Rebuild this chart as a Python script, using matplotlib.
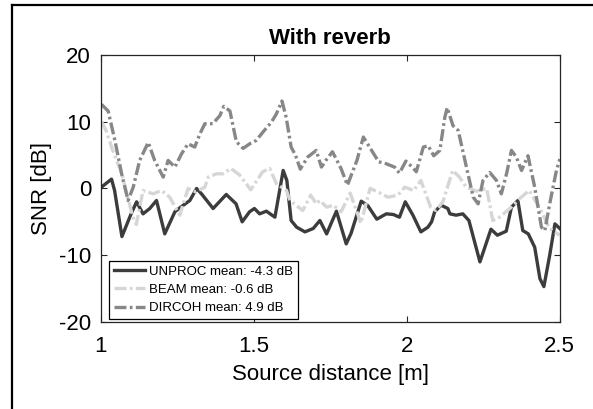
import matplotlib
matplotlib.use("Agg")
import matplotlib.pyplot as plt
from matplotlib.lines import Line2D

plt.rcParams['font.family'] = ['Liberation Sans', 'DejaVu Sans']
plt.rcParams['axes.unicode_minus'] = False

# values
unproc_x = [1.002, 1.035, 1.045, 1.069, 1.099, 1.117, 1.138, 1.160, 1.182, 1.209,
            1.242, 1.261, 1.291, 1.313, 1.329, 1.367, 1.410, 1.442, 1.462, 1.486,
            1.502, 1.519, 1.541, 1.569, 1.596, 1.608, 1.622, 1.640, 1.667, 1.694,
            1.716, 1.738, 1.770, 1.802, 1.818, 1.851, 1.873, 1.902, 1.933, 1.956,
            1.976, 1.995, 2.020, 2.046, 2.069, 2.081, 2.091, 2.112, 2.134, 2.141,
            2.161, 2.183, 2.203, 2.239, 2.275, 2.296, 2.325, 2.342, 2.363, 2.379,
            2.397, 2.418, 2.435, 2.448, 2.467, 2.484, 2.500]
unproc_y = [0.2, 1.4, -0.3, -7.2, -3.8, -2.0, -3.8, -3.0, -1.8, -6.8,
            -3.5, -2.8, -1.8, 0.0, -0.8, -3.0, -0.9, -2.3, -5.0, -3.5,
            -3.0, -3.8, -3.4, -4.3, 2.7, 1.2, -4.8, -5.8, -6.5, -6.0,
            -4.8, -6.8, -3.4, -8.3, -6.7, -1.9, -2.6, -4.6, -3.8, -3.9,
            -4.3, -2.0, -4.0, -6.5, -5.8, -5.0, -3.5, -2.5, -3.0, -3.8,
            -4.0, -3.8, -4.8, -11.0, -6.1, -7.0, -6.4, -2.8, -1.8, -6.3,
            -6.8, -8.8, -13.5, -14.7, -10.0, -5.3, -6.0]

beam_x = [1.002, 1.017, 1.039, 1.069, 1.085, 1.105, 1.116, 1.138, 1.171, 1.198,
          1.225, 1.258, 1.285, 1.310, 1.340, 1.351, 1.378, 1.400, 1.425, 1.454,
          1.490, 1.529, 1.552, 1.574, 1.607, 1.618, 1.660, 1.686, 1.704, 1.716,
          1.738, 1.760, 1.785, 1.815, 1.850, 1.880, 1.905, 1.938, 1.971, 1.993,
          2.023, 2.046, 2.078, 2.095, 2.118, 2.150, 2.172, 2.194, 2.227, 2.261,
          2.281, 2.303, 2.337, 2.369, 2.400, 2.435, 2.467, 2.499]
beam_y = [10.0, 8.7, 5.7, 2.2, -0.8, -4.3, -5.4, -0.3, -0.8, -0.3,
          -1.3, -4.0, 0.0, -0.5, 0.2, 1.7, 2.2, 2.2, 3.0, 2.0,
          -0.2, 2.5, 3.0, 0.7, -0.3, -1.8, -3.3, -1.0, -2.3, -1.8,
          -2.8, -2.5, -3.5, -0.7, -5.2, 0.0, -0.5, -1.3, -1.0, 0.2,
          -0.3, 1.2, -2.8, -3.3, -2.0, 2.7, 1.7, 0.2, -0.4, 0.0,
          -4.8, -4.3, -3.0, -1.5, -0.3, -3.0, -6.0, -7.0]

dircoh_x = [1.002, 1.024, 1.046, 1.068, 1.089, 1.106, 1.127, 1.155, 1.176, 1.204,
            1.220, 1.242, 1.264, 1.285, 1.307, 1.324, 1.340, 1.366, 1.389, 1.402,
            1.422, 1.443, 1.465, 1.487, 1.508, 1.529, 1.557, 1.573, 1.592, 1.606,
            1.622, 1.636, 1.652, 1.676, 1.704, 1.721, 1.737, 1.757, 1.785, 1.806,
            1.837, 1.858, 1.881, 1.908, 1.933, 1.960, 1.976, 1.997, 2.018, 2.031,
            2.054, 2.070, 2.088, 2.108, 2.124, 2.132, 2.151, 2.168, 2.190, 2.217,
            2.233, 2.249, 2.271, 2.293, 2.309, 2.326, 2.342, 2.358, 2.375, 2.396,
            2.418, 2.440, 2.451, 2.467, 2.489, 2.500]
dircoh_y = [12.6, 11.6, 7.2, 2.2, -1.8, 0.2, 4.2, 6.9, 4.2, 1.7,
            4.2, 3.2, 5.2, 6.7, 6.2, 8.2, 9.7, 9.7, 10.9, 12.3,
            11.6, 7.0, 6.0, 6.7, 7.2, 8.4, 9.9, 11.1, 13.1, 10.6,
            6.2, 5.0, 2.9, 4.7, 5.7, 3.2, 4.3, 5.5, 3.0, 0.5,
            4.2, 7.7, 6.0, 4.0, 3.7, 3.2, 2.3, 4.1, 3.2, 2.5,
            6.2, 6.4, 4.9, 5.7, 10.6, 12.1, 9.4, 8.7, 4.2, -1.3,
            -2.3, 1.2, 2.4, 1.2, -0.8, 2.2, 5.7, 4.7, 2.7, 4.9,
            0.2, -5.8, -6.3, -2.3, 2.7, 4.4]

labels = ['UNPROC mean: -4.3 dB', 'BEAM mean: -0.6 dB', 'DIRCOH mean: 4.9 dB']

fig = plt.figure(figsize=(5.93, 4.09), dpi=100)
ax = fig.add_axes([0.170, 0.2127, 0.774, 0.653])

dash = (0, (3.6, 1.0, 0.8, 1.0))
ax.plot(unproc_x, unproc_y, color='#3c3c3c', lw=2.4, label=labels[0])
ax.plot(beam_x, beam_y, color='#d6d6d6', lw=2.4, ls=dash, label=labels[1])
ax.plot(dircoh_x, dircoh_y, color='#878787', lw=2.4, ls=dash, label=labels[2])

ax.set_xlim(1, 2.5)
ax.set_ylim(-20, 20)
ax.set_xticks([1, 1.5, 2, 2.5])
ax.set_xticklabels(['1', '1.5', '2', '2.5'])
ax.set_yticks([-20, -10, 0, 10, 20])
ax.tick_params(direction='in', length=4, width=0.8, top=True, right=True,
               labelsize=16, colors='#262626', labelcolor='black')
ax.tick_params(axis='x', pad=10)
ax.tick_params(axis='y', pad=7)
for s in ax.spines.values():
    s.set_linewidth(0.9)
    s.set_color('#262626')

ax.set_title('With reverb', fontsize=16, fontweight='bold', pad=8)
ax.set_xlabel('Source distance [m]', fontsize=16, labelpad=5)
ax.set_ylabel('SNR [dB]', fontsize=16, labelpad=5)

leg = ax.legend(loc='lower left', bbox_to_anchor=(0.018, 0.012), fontsize=9.5,
                fancybox=False, framealpha=1, edgecolor='black',
                handlelength=2.4, borderpad=0.35, labelspacing=0.45,
                handletextpad=0.3, borderaxespad=0)
leg.get_frame().set_linewidth(0.9)

# outer frame of the figure (left and top)
fig.add_artist(Line2D([0.0202, 0.0202], [0.0, 0.988], color='black', lw=1.6))
fig.add_artist(Line2D([0.0202, 1.0], [0.988, 0.988], color='black', lw=1.6))

fig.savefig('out.png', dpi=100)
